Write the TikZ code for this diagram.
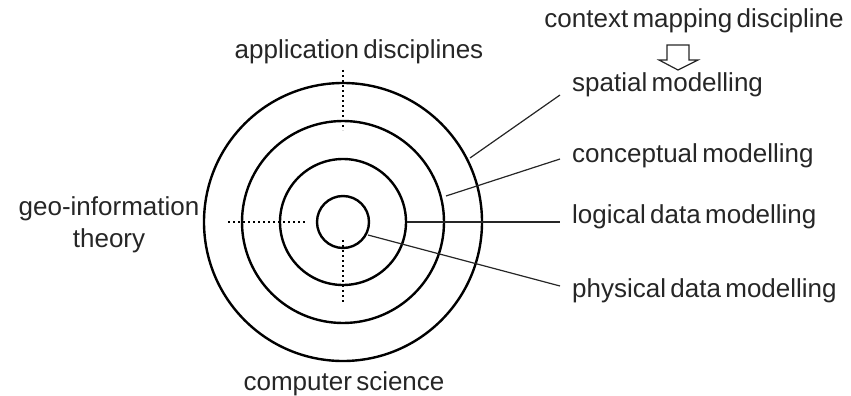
\documentclass[tikz,border=0pt]{standalone}
\usepackage{fontspec}
\setmainfont{Liberation Sans}[WordSpace=0.6]
\begin{document}
\begin{tikzpicture}[x=1pt,y=-1pt,
  ring/.style={draw=black,line width=2.4pt},
  lead/.style={draw=black!85,line width=1.2pt},
  dots/.style={draw=black,line width=2.6pt,dash pattern=on 2.2pt off 2.8pt},
  lbl/.style={inner sep=0pt,text=black!85,font=\fontsize{26}{30}\selectfont}]
\useasboundingbox (0,0) rectangle (851,396);
\coordinate (c) at (343,222);
% dotted axes
\coordinate (t1) at (343,70);  \coordinate (t2) at (343,130);
\coordinate (l1) at (228,222); \coordinate (l2) at (305,222);
\coordinate (b1) at (343,240); \coordinate (b2) at (343,303);
\draw[dots] (t1) -- (t2);
\draw[dots] (l1) -- (l2);
\draw[dots] (b1) -- (b2);
% rings
\draw[ring] (c) circle[radius=26];
\draw[ring] (c) circle[radius=63];
\draw[ring] (c) circle[radius=101];
\draw[ring] (c) circle[radius=139];
% labels
\node[lbl,anchor=base] (ctx) at (694,28) {context mapping discipline};
\node[lbl,anchor=base west] (sp) at (572,92) {spatial modelling};
\node[lbl,anchor=base west] (cm) at (572,162) {conceptual modelling};
\node[lbl,anchor=base west] (lm) at (572,223) {logical data modelling};
\node[lbl,anchor=base west] (pm) at (572,297) {physical data modelling};
\node[lbl,anchor=base] (app) at (359,59) {application disciplines};
\node[lbl,anchor=base] (geo) at (109,215) {geo-information};
\node[lbl,anchor=base] (geo2) at (109,247) {theory};
\node[lbl,anchor=base] (cs) at (344,390) {computer science};
% hollow arrow
\draw[line width=1.2pt,draw=black!85,line join=miter]
  (667,45) -- (689,45) -- (689,60) -- (698,60) -- (678,70) -- (659,60) -- (667,60) -- cycle;
% leaders
\coordinate (s1) at (470,158); \coordinate (s2) at (560,95);
\coordinate (k1) at (446,196); \coordinate (k2) at (560,159);
\coordinate (g1) at (407,222); \coordinate (g2) at (560,222);
\coordinate (p1) at (368,235); \coordinate (p2) at (560,286);
\draw[lead] (s1) -- (s2);
\draw[lead] (k1) -- (k2);
\draw[lead] (g1) -- (g2);
\draw[lead] (p1) -- (p2);
\end{tikzpicture}
\end{document}
